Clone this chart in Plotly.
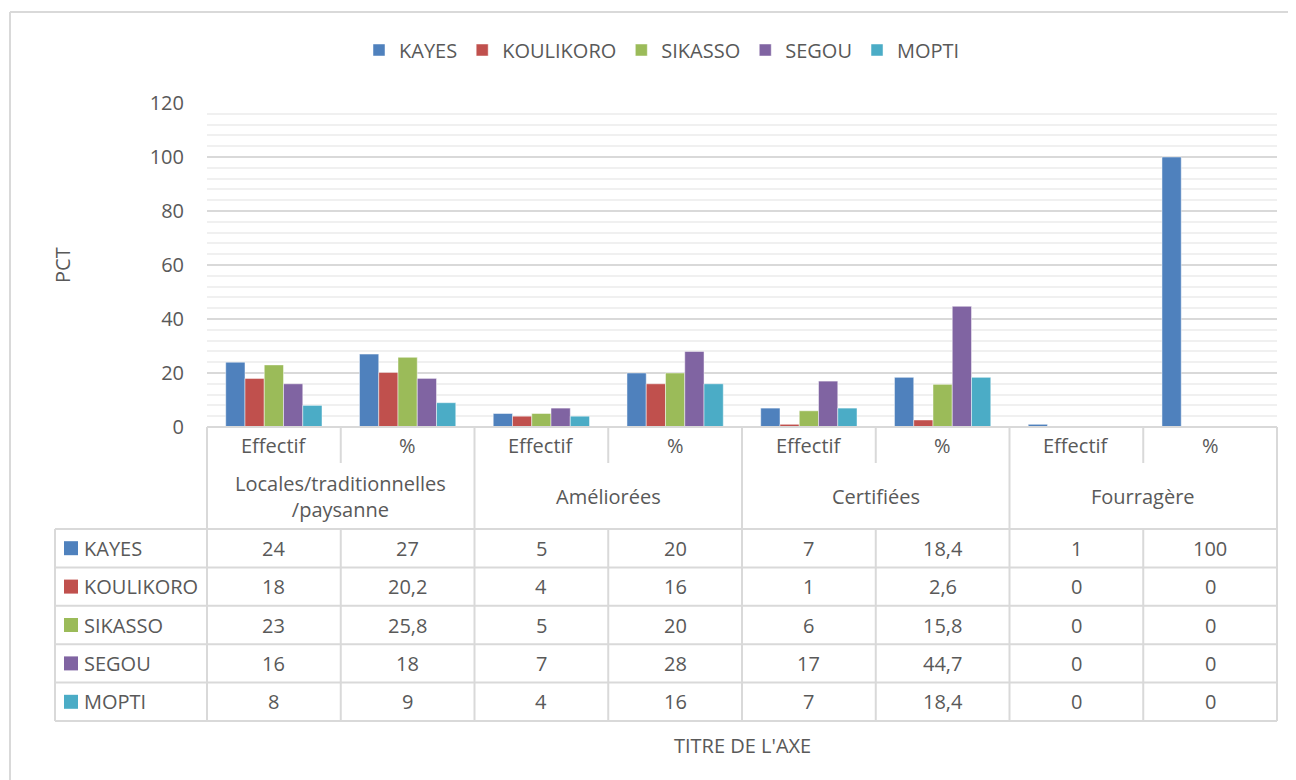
import plotly.graph_objects as go

# ---- data ----
regions = ["KAYES", "KOULIKORO", "SIKASSO", "SEGOU", "MOPTI"]
colors = ["#4F81BD", "#C0504D", "#9BBB59", "#8064A2", "#4BACC6"]
sub_labels = ["Effectif", "%", "Effectif", "%", "Effectif", "%", "Effectif", "%"]
group_labels = ["Locales/traditionnelles<br>/paysanne", "Améliorées", "Certifiées", "Fourragère"]

kayes = [24, 27, 5, 20, 7, 18.4, 1, 100]
koulikoro = [18, 20.2, 4, 16, 1, 2.6, 0, 0]
sikasso = [23, 25.8, 5, 20, 6, 15.8, 0, 0]
segou = [16, 18, 7, 28, 17, 44.7, 0, 0]
mopti = [8, 9, 4, 16, 7, 18.4, 0, 0]
series = [kayes, koulikoro, sikasso, segou, mopti]

# ---- geometry (pixels of the 1296x780 screenshot) ----
W, H = 1296, 780
OFF = 8  # default page margin of the html body
L, R, T, B = 207, 1277, 103, 427
TXT = "#595959"
LINE = "#d9d9d9"
FONT = "Open Sans"
FS = 20


def px(x):
    return (x - L) / (R - L)


def py(y):
    return (B - y) / (B - T)


n_cols = len(sub_labels)
col_w = (R - L) / n_cols
hdr1_bot = 463
hdr2_bot = 529
row_h = 38.4
tbl_bot = hdr2_bot + row_h * len(regions)
legend_left = 55

fig = go.Figure()
for name, vals, col in zip(regions, series, colors):
    fig.add_trace(
        go.Bar(
            x=list(range(n_cols)),
            y=vals,
            name=name,
            marker=dict(color=col, line=dict(color="rgba(255,255,255,0.6)", width=0.8)),
        )
    )

shapes = []


def seg(x0, y0, x1, y1, color=LINE, width=2):
    shapes.append(
        dict(type="line", xref="paper", yref="paper",
             x0=px(x0), y0=py(y0), x1=px(x1), y1=py(y1),
             line=dict(color=color, width=width))
    )


# outer chart frame
seg(10, 12, 1300, 12)
seg(10, 12, 10, 790)

# table grid
seg(L, B, R, B)
for k in range(len(regions) + 1):
    y = hdr2_bot + row_h * k
    seg(legend_left, y, R, y)
seg(legend_left, hdr2_bot, legend_left, tbl_bot)
for i in range(n_cols + 1):
    x = L + col_w * i
    if i % 2 == 0:
        seg(x, B, x, tbl_bot)
    else:
        seg(x, B, x, hdr1_bot)
        seg(x, hdr2_bot, x, tbl_bot)

annotations = []


def label(text, x, y, **kw):
    kw.setdefault("xanchor", "center")
    annotations.append(
        dict(text=text, xref="paper", yref="paper", x=x, y=y, showarrow=False,
             yanchor="middle",
             font=dict(family=FONT, size=kw.pop("size", FS), color=TXT), **kw)
    )


for i, s in enumerate(sub_labels):
    label(s, px(L + col_w * (i + 0.5)), py((B + hdr1_bot) / 2))
for g, s in enumerate(group_labels):
    label(s, px(L + col_w * (2 * g + 1)), py((hdr1_bot + hdr2_bot) / 2))

for r, (name, vals, col) in enumerate(zip(regions, series, colors)):
    yc = hdr2_bot + row_h * (r + 0.5)
    shapes.append(
        dict(type="rect", xref="paper", yref="paper",
             x0=px(64), x1=px(78), y0=py(yc - 7), y1=py(yc + 7),
             fillcolor=col, line=dict(width=0))
    )
    label(name, px(82), py(yc), xanchor="left")
    for i, v in enumerate(vals):
        label(f"{v:g}".replace(".", ","), px(L + col_w * (i + 0.5)), py(yc))

label("PCT", px(62), py(265), textangle=-90)
label("TITRE DE L'AXE", px((L + R) / 2), py(745))

fig.update_layout(
    width=W - OFF,
    height=H - OFF,
    margin=dict(l=L - OFF, r=W - R, t=T - OFF, b=H - B, autoexpand=False),
    paper_bgcolor="white",
    plot_bgcolor="white",
    barmode="group",
    bargap=0.28,
    bargroupgap=0,
    font=dict(family=FONT, size=FS, color=TXT),
    legend=dict(
        orientation="h",
        xref="container",
        yref="container",
        x=(662 - OFF) / (W - OFF),
        y=1 - (50 - OFF) / (H - OFF),
        xanchor="center",
        yanchor="middle",
        font=dict(family=FONT, size=FS, color=TXT),
        itemwidth=30,
        traceorder="normal",
    ),
    shapes=shapes,
    annotations=annotations,
    xaxis=dict(
        range=[-0.5, n_cols - 0.5],
        showticklabels=False,
        showgrid=False,
        zeroline=False,
        showline=False,
        ticks="",
    ),
    yaxis=dict(
        range=[0, 120],
        dtick=20,
        showgrid=True,
        gridcolor=LINE,
        gridwidth=1.5,
        zeroline=False,
        showline=False,
        ticks="",
        ticklabelstandoff=22,
        tickfont=dict(family=FONT, size=FS, color=TXT),
        minor=dict(dtick=4, showgrid=True, gridcolor="#f0f0f0", gridwidth=1.5),
    ),
)

fig.write_html("out.html")
